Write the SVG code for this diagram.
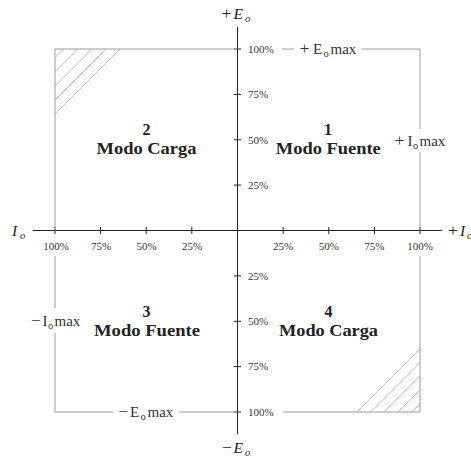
<svg xmlns="http://www.w3.org/2000/svg" width="471" height="458" viewBox="0 0 471 458">
<style>
.ax{stroke:#222;stroke-width:1;fill:none}
.bd{stroke:#9a9a9a;stroke-width:1;fill:none}
.ht{stroke:#a8a8a8;stroke-width:0.8;fill:none}
.pc{font-family:"Liberation Serif",serif;font-size:11px;fill:#333}
.pl{font-family:"Liberation Serif",serif;font-size:15px;fill:#333}
.sb{font-size:10.5px}
.op{font-size:17.5px;font-style:normal}
.it{font-family:"Liberation Serif",serif;font-size:15.5px;font-style:italic;fill:#222}
.q{font-family:"Liberation Serif",serif;font-size:16px;font-weight:bold;fill:#222;text-anchor:middle}
.mid{text-anchor:middle}
</style>
<rect width="471" height="458" fill="#fff"/>
<g id="connectors">
  <g id="axes">
    <path class="ax" d="M33,230.5 H442 M237.5,27 V434"/>
    <path class="ax" d="M55,227 V234 M100.6,227 V234 M146.2,227 V234 M191.8,227 V234 M283.2,227 V234 M328.8,227 V234 M374.4,227 V234 M420,227 V234"/>
    <path class="ax" d="M234,49 H241 M234,94.4 H241 M234,139.8 H241 M234,185.1 H241 M234,275.9 H241 M234,321.3 H241 M234,366.6 H241 M234,412 H241"/>
  </g>
  <g id="boundary">
    <path class="bd" d="M55,49 H237.5 M55,49 V230.5"/>
    <path class="bd" d="M282,49 H294 M361.5,49 H420 V129 M420,152 V230.5"/>
    <path class="bd" d="M55,256 V308 M55,333 V412 H113 M179,412 H237.5"/>
    <path class="bd" d="M283,412 H420 V256"/>
  </g>
  <g id="hatch">
    <path class="ht" d="M63.5,49 L55,57.5 M77.7,49 L55,71.7 M91.8,49 L55,85.8 M106,49 L55,100 M120,49 L55,114"/>
    <path class="ht" d="M357,412 L420,349 M370.5,412 L420,362.5 M384.2,412 L420,376.2 M398,412 L420,390 M411.8,412 L420,403.8"/>
  </g>
</g>
<g id="axis-labels">
  <text class="it" y="19.3"><tspan class="op" x="221.5">+</tspan><tspan x="233.5">E</tspan><tspan class="sb" x="245" y="22">o</tspan></text>
  <text class="it" y="235.5"><tspan x="12">I</tspan><tspan class="sb" x="20" y="238.5">o</tspan></text>
  <text class="it" y="235.5"><tspan class="op" x="448">+</tspan><tspan x="460">I</tspan><tspan class="sb" x="467" y="238.5">o</tspan></text>
  <text class="it" y="453.3"><tspan class="op" x="222">−</tspan><tspan x="233.5">E</tspan><tspan class="sb" x="245" y="456.3">o</tspan></text>
</g>
<g id="percent-labels">
  <text class="pc" x="248" y="52.7">100%</text>
  <text class="pc" x="248" y="98.1">75%</text>
  <text class="pc" x="248" y="143.5">50%</text>
  <text class="pc" x="248" y="188.8">25%</text>
  <text class="pc" x="248" y="279.6">25%</text>
  <text class="pc" x="248" y="325">50%</text>
  <text class="pc" x="248" y="370.3">75%</text>
  <text class="pc" x="248" y="415.7">100%</text>
  <text class="pc mid" x="56" y="249.7">100%</text>
  <text class="pc mid" x="101" y="249.7">75%</text>
  <text class="pc mid" x="146.5" y="249.7">50%</text>
  <text class="pc mid" x="192" y="249.7">25%</text>
  <text class="pc mid" x="283" y="249.7">25%</text>
  <text class="pc mid" x="328.8" y="249.7">50%</text>
  <text class="pc mid" x="374.4" y="249.7">75%</text>
  <text class="pc mid" x="420" y="249.7">100%</text>
</g>
<g id="limit-labels">
  <text class="pl" y="54"><tspan class="op" x="299.5">+</tspan><tspan x="313">E</tspan><tspan class="sb" x="323.5" y="57">o</tspan><tspan x="330.5" y="54">max</tspan></text>
  <text class="pl" y="145.5"><tspan class="op" x="394.5">+</tspan><tspan x="407.5">I</tspan><tspan class="sb" x="413" y="148.5">o</tspan><tspan x="419.5" y="145.5">max</tspan></text>
  <text class="pl" y="326"><tspan class="op" x="31">−</tspan><tspan x="42.5">I</tspan><tspan class="sb" x="48" y="329">o</tspan><tspan x="54.5" y="326">max</tspan></text>
  <text class="pl" y="417"><tspan class="op" x="118.5">−</tspan><tspan x="130">E</tspan><tspan class="sb" x="140.5" y="420">o</tspan><tspan x="147.5" y="417">max</tspan></text>
</g>
<g id="q1">
  <text class="q" x="328" y="134.5">1</text>
  <text class="q" x="328.3" y="154" textLength="105" lengthAdjust="spacingAndGlyphs">Modo Fuente</text>
</g>
<g id="q2">
  <text class="q" x="146.5" y="134.5">2</text>
  <text class="q" x="146.5" y="154" textLength="100" lengthAdjust="spacingAndGlyphs">Modo Carga</text>
</g>
<g id="q3">
  <text class="q" x="146.5" y="316.5">3</text>
  <text class="q" x="147" y="335.7" textLength="106" lengthAdjust="spacingAndGlyphs">Modo Fuente</text>
</g>
<g id="q4">
  <text class="q" x="328.5" y="316.5">4</text>
  <text class="q" x="328.5" y="336" textLength="99" lengthAdjust="spacingAndGlyphs">Modo Carga</text>
</g>
</svg>
